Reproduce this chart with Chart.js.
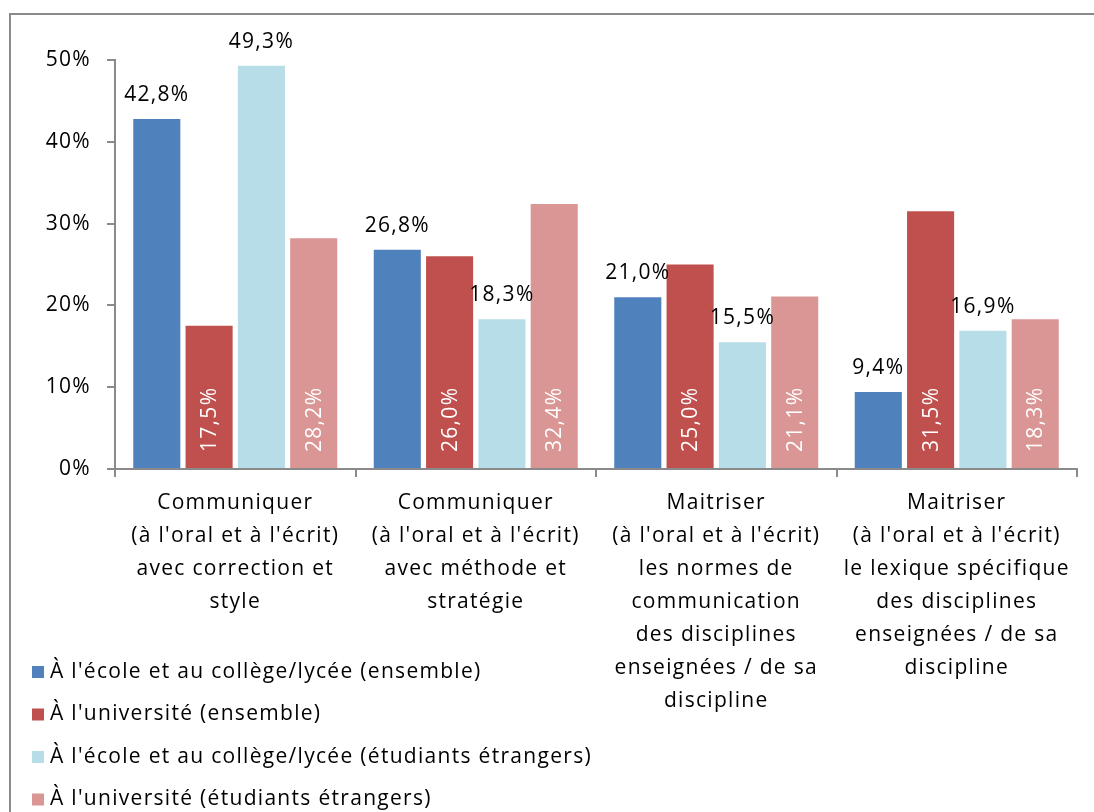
<!DOCTYPE html>
<html>
<head>
<meta charset="utf-8">
<script src="https://cdn.jsdelivr.net/npm/chart.js@4"></script>
<style>
  html, body { margin: 0; padding: 0; background: #fff; overflow: hidden; }
  #wrap { position: relative; width: 1094px; height: 812px; }
  #frame { position: absolute; left: 9px; top: 13px; width: 1200px; height: 900px; border: 2px solid #8a8a8a; box-sizing: border-box; }
  canvas { position: absolute; left: 0; top: 0; }
</style>
</head>
<body>
<div id="wrap">
  <div id="frame"></div>
  <canvas id="chart" width="1094" height="812"></canvas>
</div>
<script>
// catégories (une ligne par élément)
const categories = [
  ["Communiquer", "(à l'oral et à l'écrit)", "avec correction et", "style"],
  ["Communiquer", "(à l'oral et à l'écrit)", "avec méthode et", "stratégie"],
  ["Maitriser", "(à l'oral et à l'écrit)", "les normes de", "communication", "des disciplines", "enseignées / de sa", "discipline"],
  ["Maitriser", "(à l'oral et à l'écrit)", "le lexique spécifique", "des disciplines", "enseignées / de sa", "discipline"]
];

const seriesNames = [
  "À l'école et au collège/lycée (ensemble)",
  "À l'université (ensemble)",
  "À l'école et au collège/lycée (étudiants étrangers)",
  "À l'université (étudiants étrangers)"
];

const ecoleEnsemble = [42.8, 26.8, 21.0, 9.4];
const univEnsemble = [17.5, 26.0, 25.0, 31.5];
const ecoleEtrangers = [49.3, 18.3, 15.5, 16.9];
const univEtrangers = [28.2, 32.4, 21.1, 18.3];

const yTicks = [0, 10, 20, 30, 40, 50];

const colors = ['#4F81BD', '#C0504D', '#B7DEE8', '#DA9694'];
const FONT = "'Open Sans', sans-serif";
const SPACING = '1.3px';
const axisColor = '#8a8a8a';

function fmt(v) {
  return v.toFixed(1).replace('.', ',') + '%';
}

// texte un peu plus large, comme dans l'original
const wideText = {
  id: 'wideText',
  beforeDraw(chart) {
    chart.ctx.letterSpacing = SPACING;
  }
};

// étiquettes de valeurs : au-dessus pour séries 1 et 3, verticales blanches pour 2 et 4
const valueLabels = {
  id: 'valueLabels',
  afterDatasetsDraw(chart) {
    const ctx = chart.ctx;
    const zeroY = chart.scales.y.getPixelForValue(0);
    ctx.save();
    ctx.letterSpacing = SPACING;
    ctx.font = '21px ' + FONT;
    chart.data.datasets.forEach((ds, i) => {
      const meta = chart.getDatasetMeta(i);
      meta.data.forEach((bar, j) => {
        const txt = fmt(ds.data[j]);
        if (i === 0 || i === 2) {
          ctx.fillStyle = '#000';
          ctx.textAlign = 'center';
          ctx.textBaseline = 'alphabetic';
          ctx.fillText(txt, bar.x, bar.y - 18);
        } else {
          ctx.save();
          ctx.translate(bar.x, zeroY - 17);
          ctx.rotate(-Math.PI / 2);
          ctx.fillStyle = '#fff';
          ctx.textAlign = 'left';
          ctx.textBaseline = 'middle';
          ctx.fillText(txt, 0, 1);
          ctx.restore();
        }
      });
    });
    ctx.restore();
  }
};

// légende en bas à gauche, une série par ligne
const bottomLegend = {
  id: 'bottomLegend',
  afterDraw(chart) {
    const ctx = chart.ctx;
    ctx.save();
    ctx.letterSpacing = SPACING;
    ctx.font = '21px ' + FONT;
    ctx.textBaseline = 'middle';
    ctx.textAlign = 'left';
    chart.data.datasets.forEach((ds, i) => {
      const y = 672 + i * 42.5;
      ctx.fillStyle = ds.backgroundColor;
      ctx.fillRect(32, y - 6, 12, 12);
      ctx.fillStyle = '#000';
      ctx.fillText(ds.label, 50, y);
    });
    ctx.restore();
  }
};

const datasets = [ecoleEnsemble, univEnsemble, ecoleEtrangers, univEtrangers].map((d, i) => ({
  label: seriesNames[i],
  data: d,
  backgroundColor: colors[i],
  borderWidth: 0,
  categoryPercentage: 0.87,
  barPercentage: 0.9
}));

new Chart(document.getElementById('chart'), {
  type: 'bar',
  data: { labels: categories, datasets: datasets },
  options: {
    responsive: false,
    animation: false,
    layout: { padding: { left: 0, top: 60, right: 17, bottom: 0 } },
    plugins: {
      legend: { display: false },
      tooltip: { enabled: false }
    },
    scales: {
      x: {
        grid: { offset: true, drawOnChartArea: false, drawTicks: true, tickLength: 8, color: axisColor, lineWidth: 2 },
        border: { display: true, color: axisColor, width: 2 },
        ticks: {
          color: '#000',
          font: { family: FONT, size: 21, lineHeight: 1.57 },
          padding: 10,
          maxRotation: 0,
          autoSkip: false
        },
        afterFit(scale) { scale.height = 343; }
      },
      y: {
        min: 0,
        max: 50,
        afterBuildTicks(scale) { scale.ticks = yTicks.map(v => ({ value: v })); },
        grid: { drawOnChartArea: false, drawTicks: true, tickLength: 8, color: axisColor, lineWidth: 2 },
        border: { display: true, color: axisColor, width: 2 },
        ticks: {
          color: '#000',
          font: { family: FONT, size: 21 },
          padding: 16,
          callback: v => v + '%'
        },
        afterFit(scale) { scale.width = 115; }
      }
    }
  },
  plugins: [wideText, valueLabels, bottomLegend]
});
</script>
</body>
</html>
